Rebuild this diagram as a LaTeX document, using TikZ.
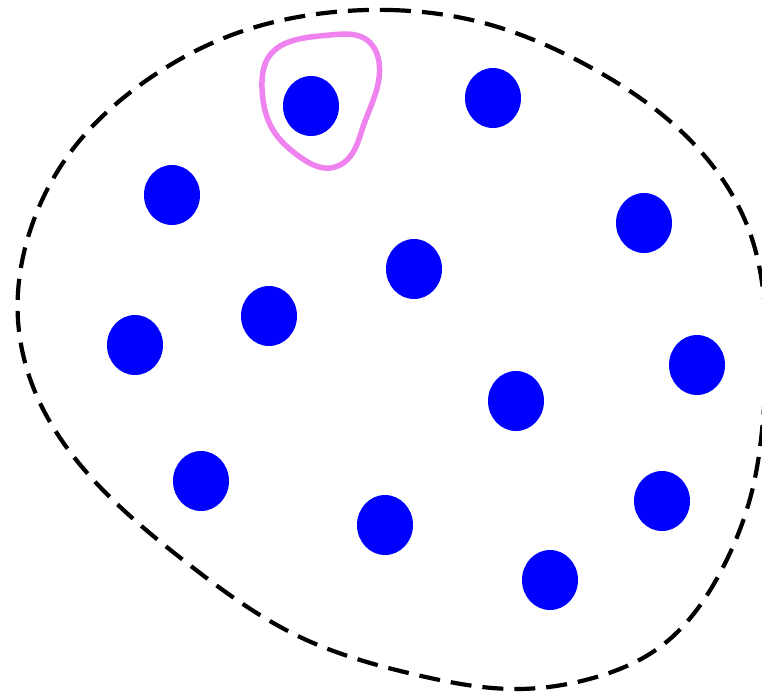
\documentclass[tikz,border=0pt]{standalone}
\usetikzlibrary{shapes.geometric,hobby}
\definecolor{myviolet}{RGB}{238,130,238}
\tikzset{
  dot/.style={ellipse,fill=blue,draw=none,inner sep=0pt,minimum width=56pt,minimum height=60pt},
  outer/.style={draw=black,line width=4.2pt,dash pattern=on 21pt off 11pt},
  lasso/.style={draw=myviolet,line width=5.5pt}
}
\begin{document}
\begin{tikzpicture}[x=1pt,y=-1pt]
\useasboundingbox (0,0) rectangle (762,696);
\clip (0,0) rectangle (762,696);
\draw[outer,use Hobby shortcut,closed=true]
 (390,10) .. (480,22) .. (590,67) .. (693,143) .. (750,233) .. (766,330) .. (763,420)
 .. (753,487) .. (720,573) .. (660,647) .. (593,678) .. (517,689) .. (417,675) .. (300,637)
 .. (187,563) .. (100,487) .. (40,403) .. (18,320) .. (32,225) .. (67,157) .. (147,80)
 .. (240,32) .. (310,15);
\draw[lasso,use Hobby shortcut,closed=true]
 (330,35) .. (367,40) .. (379,62) .. (375,95) .. (363,127) .. (347,160) .. (330,168)
 .. (300,157) .. (273,130) .. (262,88) .. (270,55) .. (295,40);
\node[dot] (d1) at (311,106) {};
\node[dot] (d2) at (493,98) {};
\node[dot] (d3) at (172,195) {};
\node[dot] (d4) at (644,223) {};
\node[dot] (d5) at (414,269) {};
\node[dot] (d6) at (269,316) {};
\node[dot] (d7) at (135,345) {};
\node[dot] (d8) at (697,365) {};
\node[dot] (d9) at (516,401) {};
\node[dot] (d10) at (201,481) {};
\node[dot] (d11) at (662,501) {};
\node[dot] (d12) at (385,525) {};
\node[dot] (d13) at (550,580) {};
\end{tikzpicture}
\end{document}
